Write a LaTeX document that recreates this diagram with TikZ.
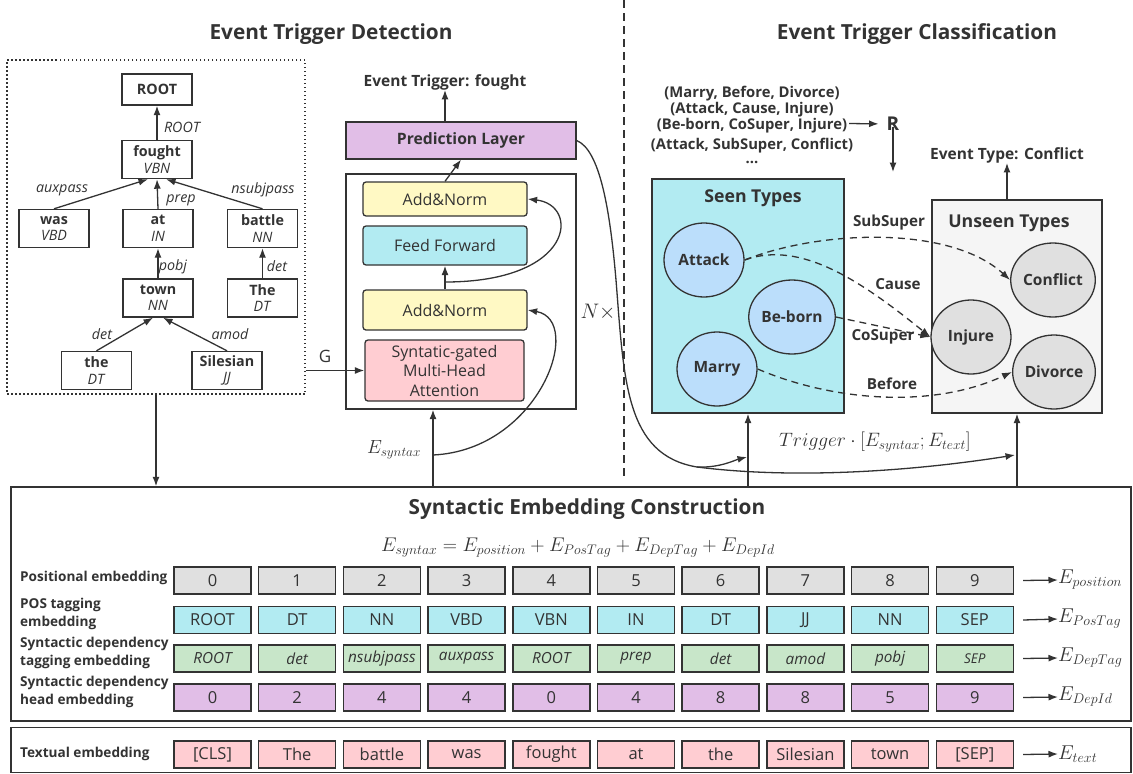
\RequirePackage{fix-cm}
\documentclass[tikz,border=0pt]{standalone}
\usepackage{fontspec}
\setmainfont{Open Sans}
\usetikzlibrary{arrows.meta,shapes.geometric,calc}
\definecolor{ln}{HTML}{333333}
\definecolor{cgrey}{HTML}{E0E0E0}
\definecolor{ccyan}{HTML}{B2EBF2}
\definecolor{cgreen}{HTML}{C8E6C9}
\definecolor{cpurple}{HTML}{E1BEE7}
\definecolor{cpink}{HTML}{FFCDD2}
\definecolor{cyellow}{HTML}{FFF9C4}
\definecolor{cblue}{HTML}{BBDEFB}
\definecolor{cwhite}{HTML}{F5F5F5}
\newcommand\fs[2]{\fontsize{#1}{#2}\selectfont}
\tikzset{
  arr/.style={-{Latex[length=9.5pt,width=7pt]}, line width=1.3pt, draw=ln},
  darr/.style={-{Latex[length=10pt,width=7pt]}, line width=1.3pt, draw=ln, dash pattern=on 7pt off 5pt},
  tnode/.style={draw=ln, line width=1.4pt, minimum width=70pt, minimum height=38pt, align=center, font=\fs{14.3}{16.5}},
  elab/.style={font=\fs{14.3}{16}\itshape},
  tblock/.style={draw=ln, line width=1.3pt, rounded corners=3pt, minimum width=164pt, align=center, font=\fs{16}{19.5}},
  title/.style={font=\fs{20.8}{24}\bfseries},
  btxt/.style={font=\fs{15.5}{18}\bfseries},
  ltxt/.style={font=\fs{15.2}{18}\bfseries},
  circ/.style={ellipse, draw=ln, line width=1.3pt, minimum width=80pt, minimum height=74pt, font=\fs{15.5}{18}\bfseries},
  cell/.style={draw=ln, line width=1.5pt, minimum width=77pt, minimum height=27pt, font=\fs{16.5}{18}},
  rlab/.style={anchor=west, align=left, font=\fs{13.6}{18}\bfseries},
  mlab/.style={anchor=west, font=\fs{20}{22}},
}
\begin{document}
\begin{tikzpicture}[x=1pt,y=-1pt, every node/.style={text=ln, inner sep=0pt}]
\useasboundingbox (0,0) rectangle (1133,774);

% ---------- titles ----------
\node[title] (t1) at (331,34) {Event Trigger Detection};
\node[title] (t2) at (917,34) {Event Trigger Classification};
\draw[ln, line width=1.3pt, dash pattern=on 8pt off 5pt] (624,0) -- (624,476);

% ---------- dependency graph ----------
\node[draw=ln, line width=1.3pt, dash pattern=on 1.5pt off 2.5pt, minimum width=298pt, minimum height=334pt] (graph) at (156,227) {};
\node[tnode, minimum height=31pt] (root) at (157,89.5) {\textbf{ROOT}};
\node[tnode] (fought) at (157,159.5) {\textbf{fought}\\\textit{VBN}};
\node[tnode] (was) at (54,228.5) {\textbf{was}\\\textit{VBD}};
\node[tnode] (at) at (158,228.5) {\textbf{at}\\\textit{IN}};
\node[tnode] (battle) at (262.5,228.5) {\textbf{battle}\\\textit{NN}};
\node[tnode] (town) at (158,298) {\textbf{town}\\\textit{NN}};
\node[tnode] (The) at (262.5,298) {\textbf{The}\\\textit{DT}};
\node[tnode] (the) at (96.5,370.5) {\textbf{the}\\\textit{DT}};
\node[tnode] (sil) at (227,370.5) {\textbf{Silesian}\\\textit{JJ}};
\draw[arr] (fought.north) -- (root.south);
\draw[arr] (was.north) -- ([xshift=-9pt]fought.south);
\draw[arr] (at.north) -- (fought.south);
\draw[arr] (battle.north) -- ([xshift=9pt]fought.south);
\draw[arr] (town.north) -- (at.south);
\draw[arr] (The.north) -- (battle.south);
\draw[arr] (the.north) -- ([xshift=-5pt]town.south);
\draw[arr] (sil.north) -- ([xshift=5pt]town.south);
\node[elab] (l1) at (182,127) {ROOT};
\node[elab] (l2) at (62,190) {auxpass};
\node[elab] (l3) at (181,200) {prep};
\node[elab] (l4) at (263,190) {nsubjpass};
\node[elab] (l5) at (173,267) {pobj};
\node[elab] (l6) at (277,266) {det};
\node[elab] (l7) at (102,334) {det};
\node[elab] (l8) at (230,334) {amod};

% ---------- transformer ----------
\node[btxt] (evt) at (445,82) {Event Trigger: fought};
\node[draw=ln, line width=1.3pt, fill=cpurple, minimum width=230pt, minimum height=37pt, font=\fs{15.7}{18}\bfseries] (pred) at (461,140.5) {Prediction Layer};
\node[draw=ln, line width=1.3pt, minimum width=230pt, minimum height=235pt] (enc) at (461,291.5) {};
\node[tblock, fill=cyellow, minimum height=34pt] (an2) at (445,199) {Add\&Norm};
\node[tblock, fill=ccyan, minimum height=39pt] (ff) at (445,245.5) {Feed Forward};
\node[tblock, fill=cyellow, minimum height=40pt] (an1) at (445,310) {Add\&Norm};
\node[tblock, fill=cpink, minimum width=159pt, minimum height=61pt] (attn) at (444.5,370.5) {Syntatic-gated\\Multi-Head\\Attention};
\draw[arr] (an2.north) -- (pred.south);
\draw[arr] (pred.north -| an2.north) -- (evt.south -| an2.north);
\draw[arr] (an1.north) -- (ff.south);
\coordinate (r1) at (445,282);
\draw[arr] (r1) .. controls (575,282) and (580,205) .. (an2.east);
\node[font=\fs{21}{24}] (nx) at (598,312) {$N\times$};
\node[font=\fs{17}{20}] (G) at (325,356) {G};
\draw[arr] (graph.east |- attn.west) -- (attn.west);

% ---------- syntactic embedding box ----------
\node[draw=ln, line width=1.5pt, minimum width=1120pt, minimum height=234pt] (seb) at (571,604) {};
\node[draw=ln, line width=1.5pt, minimum width=1120pt, minimum height=45pt] (teb) at (571,750) {};
\node[font=\fs{20.8}{24}\bfseries] (sebt) at (587,509) {Syntactic Embedding Construction};
\node[font=\fs{19.8}{22}] (form) at (578,548) {$E_{syntax}=E_{position}+E_{PosTag}+E_{DepTag}+E_{DepId}$};

\draw[arr] (graph.south) -- (graph.south |- seb.north);
\coordinate (es) at (433,455);
\draw[arr] (es |- seb.north) -- (es |- enc.south);
\node[font=\fs{19}{22}] (eslab) at (394,450) {$E_{syntax}$};
\draw[arr] (es) .. controls (540,450) and (585,320) .. (an1.east);

% rows
\node[rlab] (rl0) at (20,578) {Positional embedding};
\node[rlab] (rl1) at (20,614) {POS tagging\\embedding};
\node[rlab] (rl2) at (20,653) {Syntactic dependency\\tagging embedding};
\node[rlab] (rl3) at (20,692) {Syntactic dependency\\head embedding};
\node[rlab] (rl4) at (20,754) {Textual embedding};

\foreach \t [count=\k from 0] in {0,1,2,3,4,5,6,7,8,9}
  \node[cell, fill=cgrey] (a-\k) at ({212.5+84.7*\k},580.5) {\t};
\foreach \t [count=\k from 0] in {ROOT,DT,NN,VBD,VBN,IN,DT,JJ,NN,SEP}
  \node[cell, fill=ccyan] (b-\k) at ({212.5+84.7*\k},620) {\t};
\foreach \t [count=\k from 0] in {ROOT,det,nsubjpass,auxpass,ROOT,prep,det,amod,pobj}
  \node[cell, fill=cgreen, font=\fs{15.3}{17}\itshape] (c-\k) at ({212.5+84.7*\k},658.5) {\t};
\node[cell, fill=cgreen, font=\fs{13.5}{15}\itshape] (c-9) at ({212.5+84.7*9},658.5) {SEP};
\foreach \t [count=\k from 0] in {0,2,4,4,0,4,8,8,5,9}
  \node[cell, fill=cpurple] (d-\k) at ({212.5+84.7*\k},697.5) {\t};
\foreach \t [count=\k from 0] in {{[CLS]},The,battle,was,fought,at,the,Silesian,town,{[SEP]}}
  \node[cell, fill=cpink] (e-\k) at ({212.5+84.7*\k},754.5) {\t};

\node[mlab] (ea) at (1058,580) {$E_{position}$};
\node[mlab] (eb) at (1058,619) {$E_{PosTag}$};
\node[mlab] (ec) at (1058,658) {$E_{DepTag}$};
\node[mlab] (ed) at (1058,697) {$E_{DepId}$};
\node[mlab] (ee) at (1058,754) {$E_{text}$};
\draw[arr] ([xshift=9pt]a-9.east) -- (ea.west);
\draw[arr] ([xshift=9pt]b-9.east) -- (eb.west);
\draw[arr] ([xshift=9pt]c-9.east) -- (ec.west);
\draw[arr] ([xshift=9pt]d-9.east) -- (ed.west);
\draw[arr] ([xshift=9pt]e-9.east) -- (ee.west);

% ---------- classification ----------
\node[font=\fs{14.8}{14.2}\bfseries, align=center] (pairs) at (752,125) {(Marry, Before, Divorce)\\(Attack, Cause, Injure)\hspace*{8pt}\\(Be-born, CoSuper, Injure)\\[4.5pt](Attack, SubSuper, Conflict)\\...};
\coordinate (pe) at (849,123.5);
\node[font=\fs{19}{22}\bfseries] (R) at (893,124) {R};
\draw[arr, shorten >=8pt] (pe) -- (R.west);
\coordinate (rdown) at (893,172);
\draw[arr] (R.south) ++(0,4pt) -- (rdown);

\node[draw=ln, line width=1.3pt, fill=ccyan, minimum width=192pt, minimum height=234pt] (seen) at (748,296) {};
\node[draw=ln, line width=1.3pt, fill=cwhite, minimum width=170pt, minimum height=213pt] (unseen) at (1017,306.5) {};
\node[font=\fs{17.7}{20}\bfseries] (seent) at (753,198) {Seen Types};
\node[font=\fs{17.7}{20}\bfseries] (unseent) at (1009,223) {Unseen Types};
\node[btxt] (evtype) at (1007,155) {Event Type: Conflict};
\draw[arr] (unseen.north -| evtype.south) -- (evtype.south);

\node[circ, fill=cblue] (attack) at (704,260) {Attack};
\node[circ, fill=cblue] (beborn) at (792,317) {Be-born};
\node[circ, fill=cblue] (marry) at (717,369) {Marry};
\node[circ, fill=cgrey] (conflict) at (1053,280) {Conflict};
\node[circ, fill=cgrey] (injure) at (971,337) {Injure};
\node[circ, fill=cgrey] (divorce) at (1054,372) {Divorce};

\draw[darr] (attack.east) .. controls (820,230) and (950,225) .. (conflict.west);
\draw[darr] (attack.east) .. controls (800,240) and (860,280) .. (injure.west);
\draw[darr] (beborn.east) -- (injure.west);
\draw[darr] (marry.east) .. controls (830,400) and (930,410) .. (divorce.west);
\node[ltxt] (lsub) at (889,223) {SubSuper};
\node[ltxt] (lcau) at (898,284) {Cause};
\node[ltxt] (lcos) at (883,337) {CoSuper};
\node[ltxt] (lbef) at (892,384) {Before};

\draw[arr] (seen.south |- seb.north) -- (seen.south);
\draw[arr] (unseen.south |- seb.north) -- (unseen.south);
\node[font=\fs{19.4}{22}] (trig) at (875,442) {$Trigger\cdot[E_{syntax};E_{text}]$};

\coordinate (split) at (697,467);
\coordinate (hitA) at (747,457);
\coordinate (hitB) at (1015,455);
\draw[ln, line width=1.3pt] (pred.east) .. controls (600,150) and (610,210) .. (616,280) .. controls (624,380) and (625,455) .. (split);
\draw[arr] (split) .. controls (720,468) and (735,460) .. (hitA);
\draw[arr] (split) .. controls (800,480) and (920,470) .. (hitB);
\end{tikzpicture}
\end{document}
